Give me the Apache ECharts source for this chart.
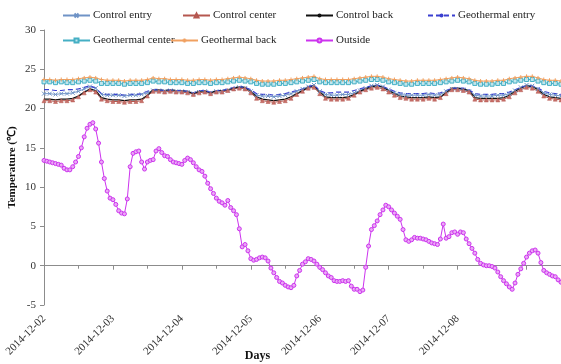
<!DOCTYPE html>
<html>
<head>
<meta charset="utf-8">
<script src="https://cdn.jsdelivr.net/npm/echarts@6/dist/echarts.min.js"></script>
<style>
  html, body { margin: 0; padding: 0; background: #fff; }
  #chart { width: 561px; height: 364px; }
</style>
</head>
<body>
<div id="chart"></div>
<script>
// Hourly temperature log, 2014-12-02 00:00 onward (hours since start).
var startDay = 2;
var lastLabelHour = 144;
var yTicks = [-5, 0, 5, 10, 15, 20, 25, 30];

// Indoor sensors, one reading every 2 hours (rows = days).
var indoorStepHours = 2;
var controlEntry = [
  21.9,21.9,21.8,21.9,21.9,22.0,22.2,22.5,22.8,22.6,21.8,21.7,
  21.7,21.7,21.6,21.7,21.7,21.8,22.0,22.3,22.3,22.2,22.3,22.2,
  22.2,22.1,21.9,22.1,22.2,22.0,22.2,22.2,22.3,22.5,22.7,22.6,
  22.2,21.7,21.6,21.6,21.5,21.6,21.7,21.9,22.2,22.5,22.8,23.0,
  22.2,21.8,21.7,21.7,21.8,21.8,22.0,22.3,22.6,22.9,23.0,22.8,
  22.4,22.0,21.8,21.7,21.7,21.7,21.7,21.8,21.7,21.8,22.2,22.5,
  22.5,22.4,22.2,21.7,21.6,21.6,21.6,21.7,21.7,21.9,22.3,22.7,
  23.0,22.9,22.5,22.0,21.8,21.7,21.6
];
var controlCenter = [
  21.0,21.0,20.9,21.0,21.0,21.1,21.5,22.0,22.4,22.1,21.2,21.0,
  20.9,20.9,20.8,20.9,20.9,21.0,21.6,22.2,22.2,22.1,22.2,22.1,
  22.1,22.0,21.8,22.0,22.1,21.9,22.1,22.1,22.3,22.5,22.6,22.5,
  22.0,21.3,21.0,20.9,20.8,20.9,21.0,21.3,21.8,22.2,22.6,22.7,
  21.9,21.3,21.2,21.2,21.2,21.3,21.7,22.1,22.4,22.6,22.7,22.5,
  22.1,21.7,21.4,21.3,21.2,21.2,21.2,21.3,21.2,21.4,21.9,22.4,
  22.4,22.3,22.1,21.2,21.1,21.1,21.1,21.1,21.2,21.5,22.0,22.4,
  22.7,22.6,22.2,21.6,21.3,21.2,21.1
];
var controlBack = [
  21.2,21.2,21.1,21.2,21.2,21.3,21.6,22.1,22.5,22.3,21.4,21.2,
  21.1,21.1,21.0,21.1,21.1,21.2,21.7,22.4,22.4,22.3,22.4,22.3,
  22.3,22.2,21.9,22.2,22.3,22.0,22.3,22.3,22.4,22.6,22.8,22.7,
  22.2,21.5,21.2,21.1,21.0,21.1,21.2,21.5,21.9,22.3,22.7,22.9,
  22.1,21.5,21.4,21.4,21.4,21.5,21.8,22.2,22.5,22.8,22.9,22.7,
  22.3,21.9,21.6,21.5,21.4,21.4,21.4,21.5,21.4,21.5,22.0,22.6,
  22.6,22.5,22.3,21.4,21.3,21.3,21.3,21.3,21.4,21.7,22.2,22.6,
  22.9,22.8,22.4,21.8,21.5,21.4,21.3
];
var geoEntry = [
  22.4,22.4,22.3,22.3,22.4,22.4,22.5,22.7,22.9,22.6,21.9,21.8,
  21.8,21.8,21.7,21.8,21.8,21.9,22.2,22.4,22.4,22.3,22.4,22.3,
  22.3,22.2,22.0,22.3,22.3,22.1,22.3,22.3,22.5,22.7,22.8,22.7,
  22.4,21.9,21.8,21.8,21.7,21.8,21.9,22.1,22.3,22.5,22.8,23.0,
  22.3,22.0,22.0,22.1,22.1,22.1,22.3,22.5,22.7,22.9,23.0,22.8,
  22.5,22.2,22.0,21.9,21.9,21.9,21.9,22.0,21.9,22.0,22.3,22.6,
  22.6,22.6,22.4,21.9,21.8,21.8,21.8,21.9,21.9,22.1,22.4,22.7,
  22.9,22.9,22.6,22.2,22.0,21.9,21.8
];
var geoCenter = [
  23.4,23.4,23.3,23.4,23.3,23.3,23.4,23.5,23.6,23.5,23.2,23.2,
  23.2,23.2,23.1,23.2,23.2,23.2,23.3,23.5,23.4,23.4,23.3,23.3,
  23.3,23.2,23.2,23.3,23.3,23.2,23.3,23.3,23.4,23.5,23.6,23.5,
  23.4,23.2,23.1,23.1,23.1,23.2,23.2,23.3,23.4,23.5,23.6,23.7,
  23.4,23.3,23.3,23.3,23.3,23.3,23.4,23.5,23.6,23.7,23.7,23.6,
  23.4,23.3,23.2,23.1,23.1,23.2,23.2,23.2,23.2,23.3,23.4,23.5,
  23.6,23.5,23.4,23.2,23.1,23.1,23.1,23.2,23.2,23.4,23.5,23.6,
  23.7,23.7,23.5,23.3,23.2,23.2,23.1
];
var geoBack = [
  23.7,23.7,23.6,23.7,23.7,23.7,23.8,23.9,24.0,23.9,23.7,23.6,
  23.6,23.6,23.5,23.6,23.6,23.6,23.7,23.9,23.8,23.8,23.7,23.7,
  23.7,23.6,23.6,23.7,23.7,23.6,23.7,23.7,23.8,23.9,24.0,23.9,
  23.8,23.6,23.5,23.5,23.5,23.6,23.6,23.7,23.8,23.9,24.0,24.1,
  23.8,23.7,23.7,23.7,23.7,23.7,23.8,23.9,24.0,24.1,24.1,24.0,
  23.8,23.7,23.6,23.5,23.5,23.6,23.6,23.6,23.6,23.7,23.8,23.9,
  24.0,23.9,23.8,23.6,23.5,23.5,23.5,23.6,23.6,23.8,23.9,24.0,
  24.1,24.1,23.9,23.7,23.6,23.6,23.5
];

// Outside air, one reading per hour (rows = days).
var outside = [
  13.4,13.3,13.2,13.1,13.0,12.9,12.8,12.4,12.2,12.2,12.6,13.2,13.9,15.0,16.4,17.5,18.0,18.2,17.4,15.6,13.2,11.1,9.5,8.6,
  8.4,7.8,7.0,6.7,6.6,8.5,12.6,14.3,14.5,14.6,13.2,12.3,13.2,13.4,13.5,14.6,14.9,14.4,14.0,13.9,13.5,13.2,13.1,13.0,
  12.9,13.4,13.7,13.5,13.1,12.6,12.2,12.0,11.4,10.5,9.8,9.2,8.6,8.2,8.0,7.7,8.3,7.4,7.0,6.5,4.7,2.4,2.7,1.9,
  0.9,0.7,0.8,1.0,1.1,1.0,0.6,-0.3,-0.9,-1.5,-2.0,-2.2,-2.5,-2.7,-2.8,-2.5,-1.3,-0.6,0.2,0.5,0.9,0.8,0.6,0.2,
  -0.2,-0.5,-0.9,-1.3,-1.5,-1.9,-2.0,-2.0,-1.9,-2.0,-1.9,-2.6,-3.0,-3.0,-3.3,-3.1,-0.2,2.5,4.6,5.1,5.7,6.5,7.1,7.7,
  7.5,7.1,6.7,6.3,5.9,4.6,3.3,3.1,3.3,3.6,3.5,3.5,3.4,3.3,3.1,2.9,2.8,2.7,3.4,5.3,3.5,3.7,4.2,4.3,
  4.0,4.3,4.2,3.4,2.8,2.2,1.6,0.8,0.3,0.1,0.0,0.0,-0.1,-0.3,-0.8,-1.4,-1.9,-2.3,-2.7,-3.0,-2.2,-1.1,-0.4,0.3,
  1.1,1.6,1.9,2.0,1.6,0.4,-0.6,-0.9,-1.1,-1.3,-1.4,-1.8,-2.1
];

var seriesNames = ['Control entry', 'Control center', 'Control back', 'Geothermal entry',
                   'Geothermal center', 'Geothermal back', 'Outside'];

function toPairs(values, step) {
  return values.map(function (v, i) { return [i * step, v]; });
}

var FONT = '"Liberation Serif", "Times New Roman", serif';
var crossPath = 'path://M0,0L10,10M10,0L0,10';
var plusPath = 'path://M5,0L5,10M0,5L10,5';

function lineSeries(name, values, step, color, extra) {
  var s = {
    name: name,
    type: 'line',
    data: toPairs(values, step),
    showSymbol: true,
    symbol: 'none',
    symbolSize: 4,
    animation: false,
    lineStyle: { color: color, width: 1 },
    itemStyle: { color: color },
    emphasis: { disabled: true }
  };
  for (var k in extra) s[k] = extra[k];
  return s;
}

var series = [
  lineSeries(seriesNames[0], controlEntry, indoorStepHours, '#6F93C6', {
    symbol: crossPath, symbolSize: 4,
    itemStyle: { color: 'none', borderColor: '#6F93C6', borderWidth: 1 }
  }),
  lineSeries(seriesNames[1], controlCenter, indoorStepHours, '#B5574F', {
    symbol: 'triangle', symbolSize: 4,
    itemStyle: { color: '#C8706A', borderColor: '#B5574F', borderWidth: 0.5 }
  }),
  lineSeries(seriesNames[2], controlBack, indoorStepHours, '#111111', {
    lineStyle: { color: '#111111', width: 1.2 }
  }),
  lineSeries(seriesNames[3], geoEntry, indoorStepHours, '#3A3FD0', {
    lineStyle: { color: '#3A3FD0', width: 1.2, type: [5, 3] }
  }),
  lineSeries(seriesNames[4], geoCenter, indoorStepHours, '#45AFC4', {
    symbol: 'rect', symbolSize: 4,
    itemStyle: { color: '#BFE6EE', borderColor: '#45AFC4', borderWidth: 1 }
  }),
  lineSeries(seriesNames[5], geoBack, indoorStepHours, '#F0A060', {
    symbol: plusPath, symbolSize: 4,
    itemStyle: { color: 'none', borderColor: '#F0A060', borderWidth: 1 }
  }),
  lineSeries(seriesNames[6], outside, 1, '#CC33EE', {
    symbol: 'circle', symbolSize: 4,
    itemStyle: { color: '#EBA8F6', borderColor: '#CC33EE', borderWidth: 1 }
  })
];

// Legend entries laid out in two rows (icon left edge, row top)
var legendPos = [
  [62, 10], [182, 10], [305, 10], [427, 10],
  [62, 35], [170, 35], [305, 35]
];
var legends = seriesNames.map(function (n, i) {
  return {
    data: [n],
    left: legendPos[i][0],
    top: legendPos[i][1],
    padding: 0,
    itemWidth: 27,
    itemHeight: 5,
    itemGap: 0,
    selectedMode: false,
    textStyle: { fontFamily: FONT, fontSize: 11, color: '#222', padding: [0, 0, 0, -2] }
  };
});

var chart = echarts.init(document.getElementById('chart'), null, { renderer: 'canvas' });
chart.setOption({
  backgroundColor: '#ffffff',
  animation: false,
  legend: legends,
  grid: {
    left: 44, right: 0, top: 30, bottom: 59,
    containLabel: false,
    outerBoundsMode: 'none'
  },
  xAxis: {
    type: 'value',
    min: 0,
    max: 180,
    interval: 24,
    name: 'Days',
    nameLocation: 'middle',
    nameGap: 45,
    nameMoveOverlap: false,
    nameTextStyle: {
      fontFamily: FONT, fontSize: 12, fontWeight: 'bold', color: '#111',
      padding: [0, 90, 0, 0]
    },
    axisLine: { lineStyle: { color: '#8c8c8c', width: 1 } },
    axisTick: { show: true, length: 4, lineStyle: { color: '#8c8c8c' } },
    minorTick: { show: true, splitNumber: 2, length: 3, lineStyle: { color: '#8c8c8c' } },
    splitLine: { show: false },
    minorSplitLine: { show: false },
    axisLabel: {
      rotate: 45,
      margin: 12,
      fontFamily: FONT,
      fontSize: 11,
      color: '#333',
      showMaxLabel: false,
      formatter: function (v) {
        if (v % 24 !== 0 || v > lastLabelHour) return '';
        var d = startDay + v / 24;
        return '2014-12-' + (d < 10 ? '0' + d : d);
      }
    }
  },
  yAxis: {
    type: 'value',
    min: yTicks[0],
    max: yTicks[yTicks.length - 1],
    interval: 5,
    name: 'Temperature (\u2103)',
    nameLocation: 'middle',
    nameRotate: 90,
    nameGap: 26,
    nameMoveOverlap: false,
    nameTextStyle: { fontFamily: FONT, fontSize: 11, fontWeight: 'bold', color: '#111' },
    axisLine: { show: true, lineStyle: { color: '#8c8c8c', width: 1 } },
    axisTick: { show: true, length: 4, lineStyle: { color: '#8c8c8c' } },
    splitLine: { show: false },
    axisLabel: { fontFamily: FONT, fontSize: 11, color: '#333', margin: 8 }
  },
  series: series
});
</script>
</body>
</html>
